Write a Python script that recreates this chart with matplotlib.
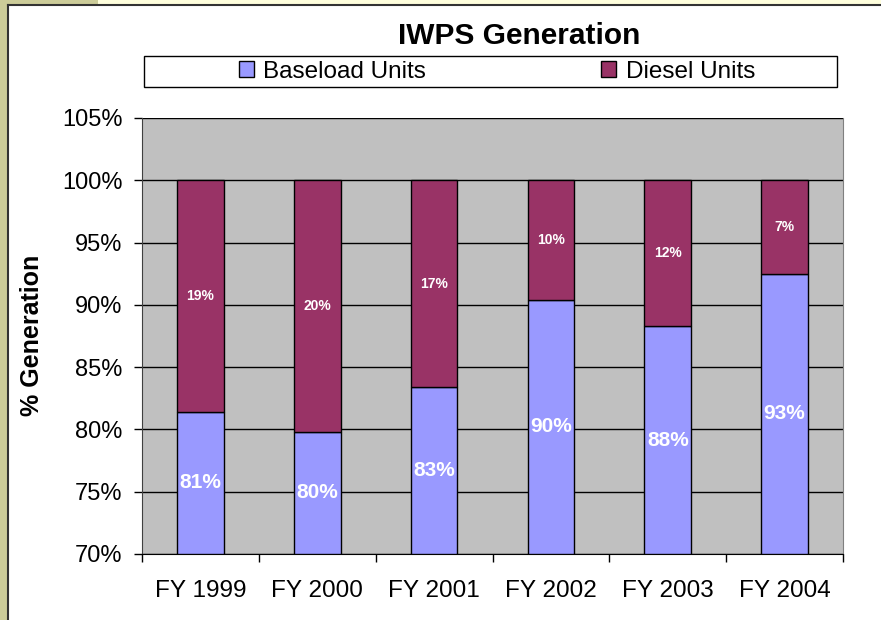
# IWPS generation share, stacked bars
import numpy as np
import matplotlib.pyplot as plt
from matplotlib.patches import Rectangle
from matplotlib.ticker import FuncFormatter

plt.rcParams['font.family'] = ['Liberation Sans', 'DejaVu Sans']

years = ["FY 1999", "FY 2000", "FY 2001", "FY 2002", "FY 2003", "FY 2004"]
baseload = [81.4, 79.8, 83.4, 90.4, 88.3, 92.5]
diesel = [18.6, 20.2, 16.6, 9.6, 11.7, 7.5]
baseload_labels = ["81%", "80%", "83%", "90%", "88%", "93%"]
diesel_labels = ["19%", "20%", "17%", "10%", "12%", "7%"]

W, H = 881, 620
fig = plt.figure(figsize=(W / 100, H / 100), dpi=100)
fig.patch.set_facecolor("white")

# page frame around the chart
fig.patches.append(Rectangle((0, 0), 8 / W, 1, transform=fig.transFigure,
                             facecolor="#CCCC99", edgecolor="none", zorder=0))
fig.patches.append(Rectangle((0, 1 - 5 / H), 98 / W, 5 / H, transform=fig.transFigure,
                             facecolor="#CCCC99", edgecolor="none", zorder=0))
fig.patches.append(Rectangle((98 / W, 1 - 5 / H), 1 - 98 / W, 5 / H, transform=fig.transFigure,
                             facecolor="#FFFFDD", edgecolor="none", zorder=0))
fig.add_artist(plt.Line2D([8 / W, 8 / W], [0, 1 - 5 / H], transform=fig.transFigure,
                          color="#333333", linewidth=1.5))
fig.add_artist(plt.Line2D([8 / W, 1], [1 - 5 / H, 1 - 5 / H], transform=fig.transFigure,
                          color="#333333", linewidth=1.5))

ax = fig.add_axes([142 / W, (H - 554) / H, 701 / W, 436 / H])
ax.set_facecolor("#C0C0C0")

x = np.arange(len(years))
bw = 0.4
b1 = ax.bar(x, np.array(baseload) - 70, bw, bottom=70, color="#9999FF",
            edgecolor="black", linewidth=1, label="Baseload Units", zorder=3)
b2 = ax.bar(x, diesel, bw, bottom=baseload, color="#993366",
            edgecolor="black", linewidth=1, label="Diesel Units", zorder=3)

for i in range(len(years)):
    ax.text(x[i], (70 + baseload[i]) / 2, baseload_labels[i], ha="center", va="center",
            color="white", fontsize=15, fontweight="bold", zorder=4)
    ax.text(x[i], baseload[i] + diesel[i] / 2, diesel_labels[i], ha="center", va="center",
            color="white", fontsize=10, fontweight="bold", zorder=4)

ax.set_xlim(-0.5, len(years) - 0.5)
ax.set_ylim(70, 105)
ax.set_yticks(np.arange(70, 106, 5))
ax.yaxis.set_major_formatter(FuncFormatter(lambda v, p: f"{v:.0f}%"))
ax.yaxis.grid(True, color="black", linewidth=1)
ax.set_axisbelow(True)

ax.set_xticks(x)
ax.set_xticklabels(years)
ax.set_xticks(np.arange(-0.5, len(years), 1), minor=True)
ax.tick_params(axis="x", which="major", length=0, pad=19, labelsize=17.5)
ax.tick_params(axis="x", which="minor", length=6, width=1, color="black", direction="out")
ax.tick_params(axis="y", length=6, width=1, color="black", pad=8, labelsize=17)

ax.spines["top"].set_visible(False)
ax.spines["right"].set_color("#808080")
ax.spines["left"].set_color("#404040")
ax.spines["bottom"].set_color("black")

fig.text(519 / W, 1 - 36 / H, "IWPS Generation", ha="center", va="center",
         fontsize=21.5, fontweight="bold")
fig.text(32 / W, 1 - 335 / H, "% Generation", ha="center", va="center",
         rotation=90, fontsize=18, fontweight="bold")

# legend box
fig.patches.append(Rectangle((144 / W, 1 - 87 / H), 693 / W, 31 / H, transform=fig.transFigure,
                             fill=False, edgecolor="black", linewidth=1))
fig.legend(handles=[b1, b2], ncol=2, loc="center", bbox_to_anchor=(497 / W, 1 - 71.5 / H),
           frameon=False, fontsize=17.5, columnspacing=7.2, handlelength=0.6,
           handleheight=0.6, handletextpad=0.4)

fig.savefig("out.png", dpi=100)
